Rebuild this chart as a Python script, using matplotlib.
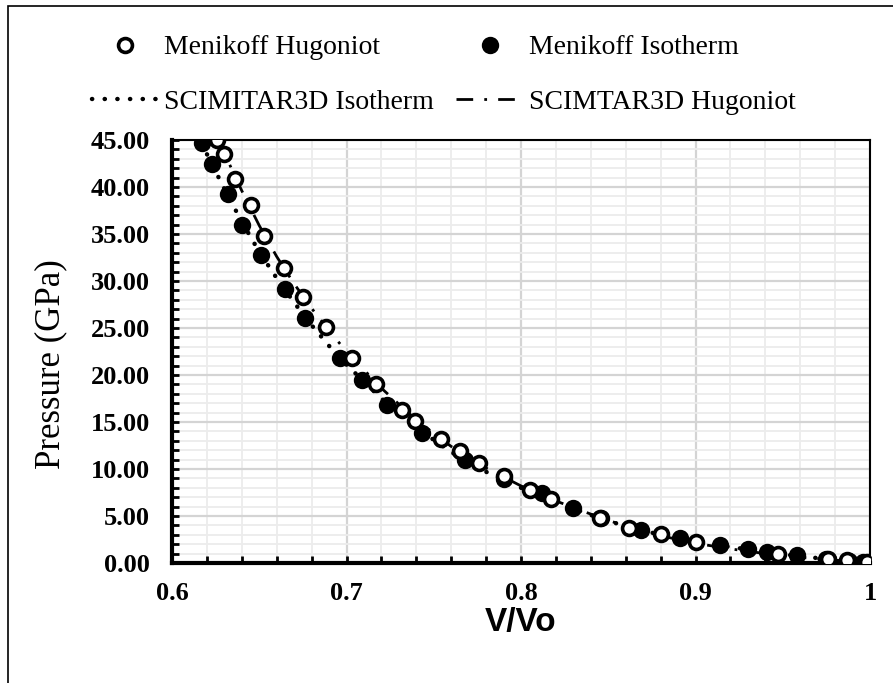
import numpy as np
import matplotlib.pyplot as plt
from matplotlib.patches import Rectangle
from matplotlib.ticker import MultipleLocator, FormatStrFormatter

# -- data -- #
hug_v = [0.626, 0.630, 0.636, 0.645, 0.653, 0.664, 0.675, 0.688, 0.703, 0.717,
         0.732, 0.739, 0.754, 0.765, 0.776, 0.790, 0.805, 0.817, 0.845, 0.862,
         0.880, 0.900, 0.947, 0.976, 0.987, 0.998]
hug_p = [45.0, 43.5, 40.9, 38.1, 34.8, 31.4, 28.3, 25.1, 21.8, 19.0,
         16.3, 15.1, 13.2, 11.9, 10.6, 9.3, 7.8, 6.8, 4.8, 3.7,
         3.1, 2.2, 1.0, 0.4, 0.3, 0.1]

iso_v = [0.617, 0.623, 0.632, 0.640, 0.651, 0.665, 0.676, 0.696, 0.709, 0.723,
         0.743, 0.768, 0.790, 0.812, 0.830, 0.846, 0.869, 0.891, 0.914, 0.930,
         0.941, 0.958, 0.975, 0.988, 0.996]
iso_p = [44.7, 42.5, 39.3, 36.0, 32.8, 29.1, 26.1, 21.8, 19.5, 16.8,
         13.8, 11.0, 8.9, 7.5, 5.9, 4.8, 3.5, 2.7, 1.9, 1.5,
         1.2, 0.8, 0.45, 0.25, 0.1]

sim_iso_v = [0.617, 0.620, 0.630, 0.640, 0.650, 0.660, 0.670, 0.680, 0.690, 0.700,
             0.720, 0.740, 0.760, 0.780, 0.800, 0.820, 0.840, 0.860, 0.880, 0.900,
             0.920, 0.940, 0.960, 0.980, 1.000]
sim_iso_p = [44.7, 43.5, 39.8, 36.3, 33.1, 30.3, 27.7, 25.3, 23.1, 21.1,
             17.5, 14.4, 11.8, 9.7, 8.0, 6.5, 5.1, 3.9, 3.0, 2.3,
             1.7, 1.2, 0.7, 0.35, 0.0]

sim_hug_v = [0.626, 0.630, 0.640, 0.650, 0.660, 0.670, 0.680, 0.690, 0.700, 0.720,
             0.740, 0.760, 0.780, 0.800, 0.820, 0.840, 0.860, 0.880, 0.900, 0.920,
             0.940, 0.960, 0.980, 1.000]
sim_hug_p = [45.0, 43.6, 39.6, 35.9, 32.6, 29.7, 27.1, 24.7, 22.5, 18.6,
             15.2, 12.4, 10.1, 8.2, 6.6, 5.2, 3.9, 2.9, 2.1, 1.5,
             1.0, 0.6, 0.3, 0.0]

x_ticks = [0.6, 0.7, 0.8, 0.9, 1.0]
x_labels = ['0.6', '0.7', '0.8', '0.9', '1']

# -- figure -- #
plt.rcParams['font.family'] = ['Liberation Serif', 'DejaVu Serif']

fig = plt.figure(figsize=(8.93, 6.83), dpi=100)
ax = fig.add_axes([172 / 893, 1 - 563 / 683, 698 / 893, 423 / 683])

fig.patches.append(Rectangle((8 / 893, -0.1), 1.2, 1.1 - 6 / 683,
                             transform=fig.transFigure, fill=False,
                             edgecolor='black', linewidth=1.2, zorder=-1))

l_iso, = ax.plot(sim_iso_v, sim_iso_p, color='black', lw=3.2,
                 linestyle=(0, (0.05, 2.8)), dash_capstyle='round', zorder=3,
                 label='SCIMITAR3D Isotherm')
l_hug, = ax.plot(sim_hug_v, sim_hug_p, color='black', lw=2.0,
                 linestyle=(0, (6, 4, 1, 4)), zorder=3,
                 label='SCIMTAR3D Hugoniot')
m_iso, = ax.plot(iso_v, iso_p, 'o', ms=11, mfc='black', mec='black',
                 mew=1.5, zorder=4, label='Menikoff Isotherm')
m_hug, = ax.plot(hug_v, hug_p, 'o', ms=10, mfc='white', mec='black',
                 mew=2.6, zorder=5, label='Menikoff Hugoniot')

ax.set_xlim(0.6, 1.0)
ax.set_ylim(0, 45)
ax.set_xticks(x_ticks)
ax.set_xticklabels(x_labels)
ax.xaxis.set_minor_locator(MultipleLocator(0.02))
ax.yaxis.set_major_locator(MultipleLocator(5))
ax.yaxis.set_minor_locator(MultipleLocator(1))
ax.yaxis.set_major_formatter(FormatStrFormatter('%.2f'))

ax.grid(which='major', color='#d4d4d4', lw=1.6, zorder=0)
ax.grid(which='minor', color='#ececec', lw=1.3, zorder=0)
ax.set_axisbelow(True)

ax.tick_params(which='both', direction='in', width=2, length=5,
               top=False, right=False)
ax.tick_params(axis='x', which='major', labelsize=19, pad=14)
ax.tick_params(axis='y', which='major', labelsize=19, pad=16)
for lab in ax.get_xticklabels() + ax.get_yticklabels():
    lab.set_fontweight('bold')

for side in ['left', 'bottom']:
    ax.spines[side].set_linewidth(3)
for side in ['top', 'right']:
    ax.spines[side].set_linewidth(1.5)

ax.set_xlabel('V/Vo', fontsize=24, fontweight='bold',
              family=['Liberation Sans', 'DejaVu Sans'], labelpad=1)
ax.set_ylabel('Pressure (GPa)', fontsize=25)
ax.yaxis.set_label_coords(-0.15, 0.47)

fig.legend(handles=[m_hug, l_iso, m_iso, l_hug], ncol=2, frameon=False,
           loc='upper left', bbox_to_anchor=(67 / 893, 1 - 10 / 683),
           fontsize=20, handlelength=2.4, handletextpad=0.2,
           columnspacing=0.8, labelspacing=1.05)

fig.savefig('out.png', dpi=100)
